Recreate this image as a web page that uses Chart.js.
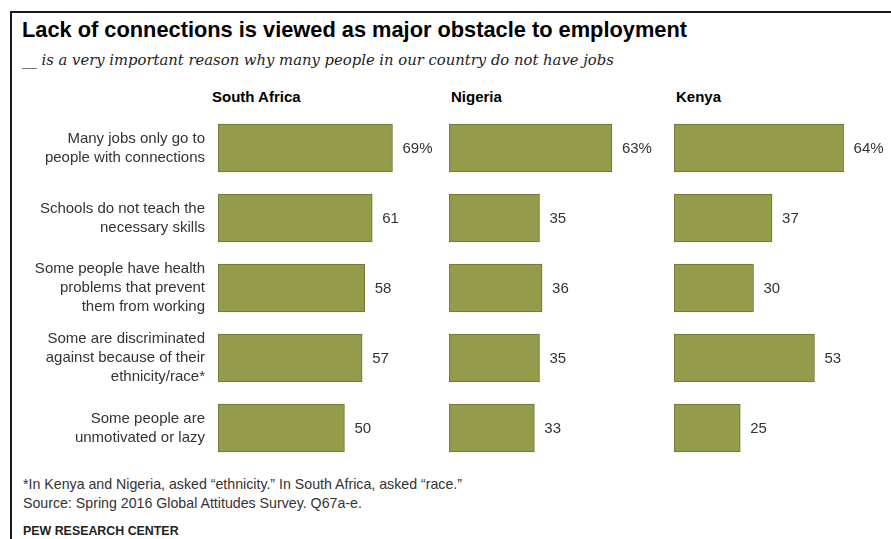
<!DOCTYPE html>
<html>
<head>
<meta charset="utf-8">
<script src="https://cdn.jsdelivr.net/npm/chart.js@4.4.1/dist/chart.umd.min.js"></script>
<style>
  body { margin: 0; background: #fff; width: 891px; height: 539px; overflow: hidden; position: relative;
         font-family: Arial, "Liberation Sans", sans-serif; }
  .frame { position: absolute; left: 10px; top: 11px; right: 0; bottom: 0;
           border-left: 2px solid #1a1a1a; border-top: 2px solid #1a1a1a; }
  .title { position: absolute; left: 22px; top: 17px; line-height: 26px; font-size: 21.8px; font-weight: bold; color: #000; }
  .sub { position: absolute; left: 22px; top: 50px; font: italic 14.8px/20px "DejaVu Serif", Georgia, serif; color: #222; }
  .head { position: absolute; top: 88px; line-height: 18px; font-size: 15px; font-weight: bold; color: #000; }
  .note { position: absolute; left: 23px; line-height: 16px; font-size: 14.2px; color: #333; }
  canvas { position: absolute; top: 113px; }
</style>
</head>
<body>
<div class="frame"></div>
<div class="title">Lack of connections is viewed as major obstacle to employment</div>
<div class="sub">__ is a very important reason why many people in our country do not have jobs</div>
<div class="head" id="h0" style="left:212px"></div>
<div class="head" id="h1" style="left:451px"></div>
<div class="head" id="h2" style="left:676px"></div>

<canvas id="c0" width="428" height="350" style="left:12px"></canvas>
<canvas id="c1" width="226" height="350" style="left:449px"></canvas>
<canvas id="c2" width="217" height="350" style="left:674px"></canvas>

<div class="note" style="top:476px">*In Kenya and Nigeria, asked “ethnicity.” In South Africa, asked “race.”</div>
<div class="note" style="top:495px">Source: Spring 2016 Global Attitudes Survey. Q67a-e.</div>
<div class="note" style="top:523px; font-size:12.4px; font-weight:bold; color:#222">PEW RESEARCH CENTER</div>

<script>
const categories = [
  ["Many jobs only go to", "people with connections"],
  ["Schools do not teach the", "necessary skills"],
  ["Some people have health", "problems that prevent", "them from working"],
  ["Some are discriminated", "against because of their", "ethnicity/race*"],
  ["Some people are", "unmotivated or lazy"]
];
const countries = ["South Africa", "Nigeria", "Kenya"];
const southAfrica = [69, 61, 58, 57, 50];
const nigeria = [63, 35, 36, 35, 33];
const kenya = [64, 37, 30, 53, 25];

const FONT = 'Arial, "Liberation Sans", sans-serif';

// number next to each bar, first row gets the % sign
const valueLabels = {
  id: "valueLabels",
  afterDatasetsDraw(chart) {
    const ctx = chart.ctx;
    const values = chart.data.datasets[0].data;
    ctx.save();
    ctx.font = "15px " + FONT;
    ctx.fillStyle = "#333";
    ctx.textBaseline = "middle";
    chart.getDatasetMeta(0).data.forEach((bar, i) => {
      const txt = i === 0 ? values[i] + "%" : String(values[i]);
      ctx.fillText(txt, bar.x + 10, bar.y + 1);
    });
    ctx.restore();
  }
};

function makePanel(id, values, showLabels, axisWidth, padRight) {
  new Chart(document.getElementById(id), {
    type: "bar",
    data: {
      labels: categories,
      datasets: [{
        data: values,
        backgroundColor: "#949c4b",
        borderColor: "#6d7333",
        borderWidth: 1,
        borderSkipped: false,
        barThickness: 48
      }]
    },
    options: {
      indexAxis: "y",
      responsive: false,
      animation: false,
      layout: { padding: { left: 0, right: padRight, top: 0, bottom: 0 } },
      plugins: { legend: { display: false }, tooltip: { enabled: false } },
      scales: {
        x: { min: 0, max: 70, display: false },
        y: {
          display: showLabels,
          grid: { display: false, drawTicks: false },
          border: { display: false },
          ticks: { color: "#333", padding: 13, font: { family: FONT, size: 15, lineHeight: 1.27 } },
          afterFit: (scale) => {
            // labels sit inside their rows, so no extra room above/below
            scale.width = axisWidth;
            scale.paddingTop = 0;
            scale.paddingBottom = 0;
          }
        }
      }
    },
    plugins: [valueLabels]
  });
}

countries.forEach((name, i) => { document.getElementById("h" + i).textContent = name; });

makePanel("c0", southAfrica, true, 206, 45);
makePanel("c1", nigeria, false, 0, 45);
makePanel("c2", kenya, false, 0, 31.5);
</script>
</body>
</html>
